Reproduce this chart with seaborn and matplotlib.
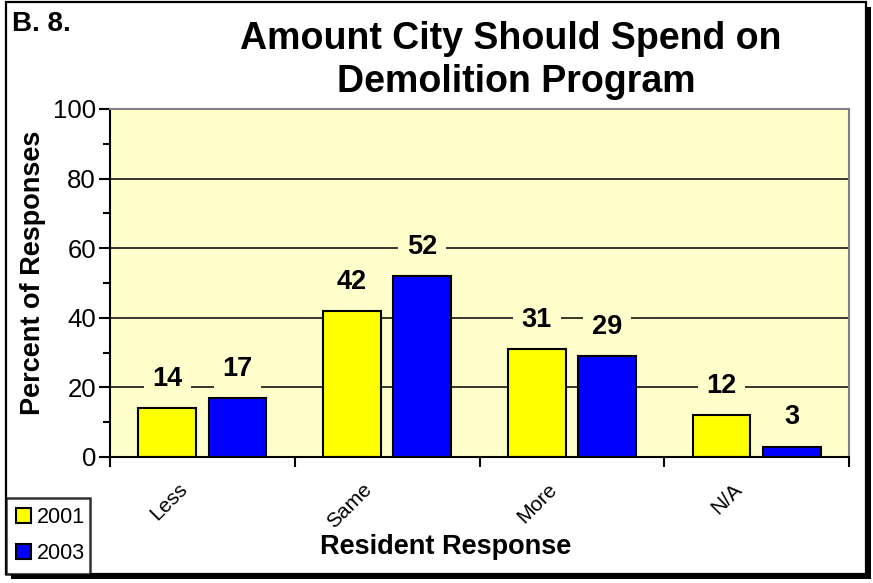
import matplotlib
matplotlib.use("Agg")
import matplotlib.pyplot as plt
import seaborn as sns
import pandas as pd
from matplotlib.patches import Rectangle, Patch
from matplotlib.ticker import MultipleLocator, FixedLocator
from matplotlib.transforms import ScaledTranslation

categories = ["Less", "Same", "More", "N/A"]
years = ["2001", "2003"]
values_2001 = [14, 42, 31, 12]
values_2003 = [17, 52, 29, 3]

df = pd.DataFrame({
    "Resident Response": categories * 2,
    "Percent": values_2001 + values_2003,
    "Year": [years[0]] * 4 + [years[1]] * 4,
})

sns.set_style("white")
plt.rcParams["font.family"] = ["Liberation Sans", "DejaVu Sans"]
plt.rcParams["text.color"] = "black"
plt.rcParams["axes.labelcolor"] = "black"
plt.rcParams["xtick.color"] = "black"
plt.rcParams["ytick.color"] = "black"

W, H = 873, 583
fig = plt.figure(figsize=(W / 100, H / 100), dpi=100)
fig.patch.set_facecolor("white")

def fx(px):
    return px / W

def fy(py):
    return 1 - py / H

# frame with shadow
shadow = Rectangle((fx(11), fy(579)), fx(871) - fx(11), fy(7) - fy(579),
                   transform=fig.transFigure, facecolor="black", edgecolor="none", zorder=0)
frame = Rectangle((fx(6), fy(574)), fx(866) - fx(6), fy(2) - fy(574),
                  transform=fig.transFigure, facecolor="white", edgecolor="black",
                  linewidth=1.6, zorder=0.5)
fig.patches.extend([shadow, frame])

ax = fig.add_axes([fx(110), fy(457), fx(849) - fx(110), fy(109) - fy(457)])
ax.set_zorder(2)
bg = "#FFFFCC"
ax.set_facecolor(bg)

palette = {"2001": "#FFFF00", "2003": "#0000FF"}
sns.barplot(data=df, x="Resident Response", y="Percent", hue="Year",
            palette=palette, width=0.76, gap=0.18, edgecolor="black",
            linewidth=1.5, ax=ax, legend=False, saturation=1)

ax.set_ylim(0, 100)
ax.set_xlim(-0.5, 3.5)
ax.yaxis.set_major_locator(MultipleLocator(20))
ax.yaxis.set_minor_locator(MultipleLocator(10))
for yv in [20, 40, 60, 80]:
    ax.axhline(yv, color="black", linewidth=1.1, zorder=0.5)

for side in ["top", "right"]:
    ax.spines[side].set_color("#808080")
    ax.spines[side].set_linewidth(1.5)
for side in ["left", "bottom"]:
    ax.spines[side].set_color("black")
    ax.spines[side].set_linewidth(1.5)

ax.tick_params(axis="y", which="major", direction="out", length=8, width=1.5,
               color="black", labelsize=18.5, pad=2, left=True)
ax.tick_params(axis="y", which="minor", direction="out", length=5, width=1.5,
               color="black", left=True)
ax.xaxis.set_minor_locator(FixedLocator([-0.5, 0.5, 1.5, 2.5, 3.5]))
ax.tick_params(axis="x", which="minor", direction="out", length=7, width=1.5,
               color="black", bottom=True)
ax.tick_params(axis="x", which="major", length=0, labelsize=15, pad=21)
ax.set_xticks(range(len(categories)))
ax.set_xticklabels(categories, rotation=45, ha="right", va="center",
                   rotation_mode="anchor")
for lab in ax.get_xticklabels():
    lab.set_transform(lab.get_transform() + ScaledTranslation(-18 / 100, 0, fig.dpi_scale_trans))

ax.set_xlabel("Resident Response", fontsize=19.5, fontweight="bold", labelpad=0)
ax.xaxis.set_label_coords((fx(446) - fx(110)) / (fx(849) - fx(110)), -0.222)
ax.set_ylabel("Percent of Responses", fontsize=19.5, fontweight="bold", labelpad=6)
ax.yaxis.set_label_coords(-0.087, 0.53)

for container in ax.containers:
    for bar in container:
        h = bar.get_height()
        ax.annotate(f"{h:.0f}", (bar.get_x() + bar.get_width() / 2, h),
                    xytext=(0, 21), textcoords="offset points",
                    ha="center", va="center", fontsize=19.5, fontweight="bold",
                    bbox=dict(boxstyle="square,pad=0.32", facecolor=bg, edgecolor="none"),
                    zorder=5)

fig.text(fx(511), fy(39), "Amount City Should Spend on", ha="center", va="center",
         fontsize=27, fontweight="bold", zorder=3)
fig.text(fx(516), fy(82), "Demolition Program", ha="center", va="center",
         fontsize=27, fontweight="bold", zorder=3)
fig.text(fx(12), fy(24), "B. 8.", ha="left", va="center", fontsize=20,
         fontweight="bold", zorder=3)

handles = [Patch(facecolor=palette[y], edgecolor="black", linewidth=1.5) for y in years]
leg = fig.legend(handles, years, loc="lower left",
                 bbox_to_anchor=(fx(6), fy(574), fx(90) - fx(6), fy(497) - fy(574)),
                 mode="expand", frameon=True, fancybox=False, fontsize=15.5,
                 handlelength=0.7, handleheight=0.7, handletextpad=0.3,
                 borderaxespad=0, labelspacing=0.7, borderpad=0.45)
leg.get_frame().set_edgecolor("black")
leg.get_frame().set_linewidth(1.8)
leg.set_zorder(4)

fig.savefig("out.png", dpi=100)
